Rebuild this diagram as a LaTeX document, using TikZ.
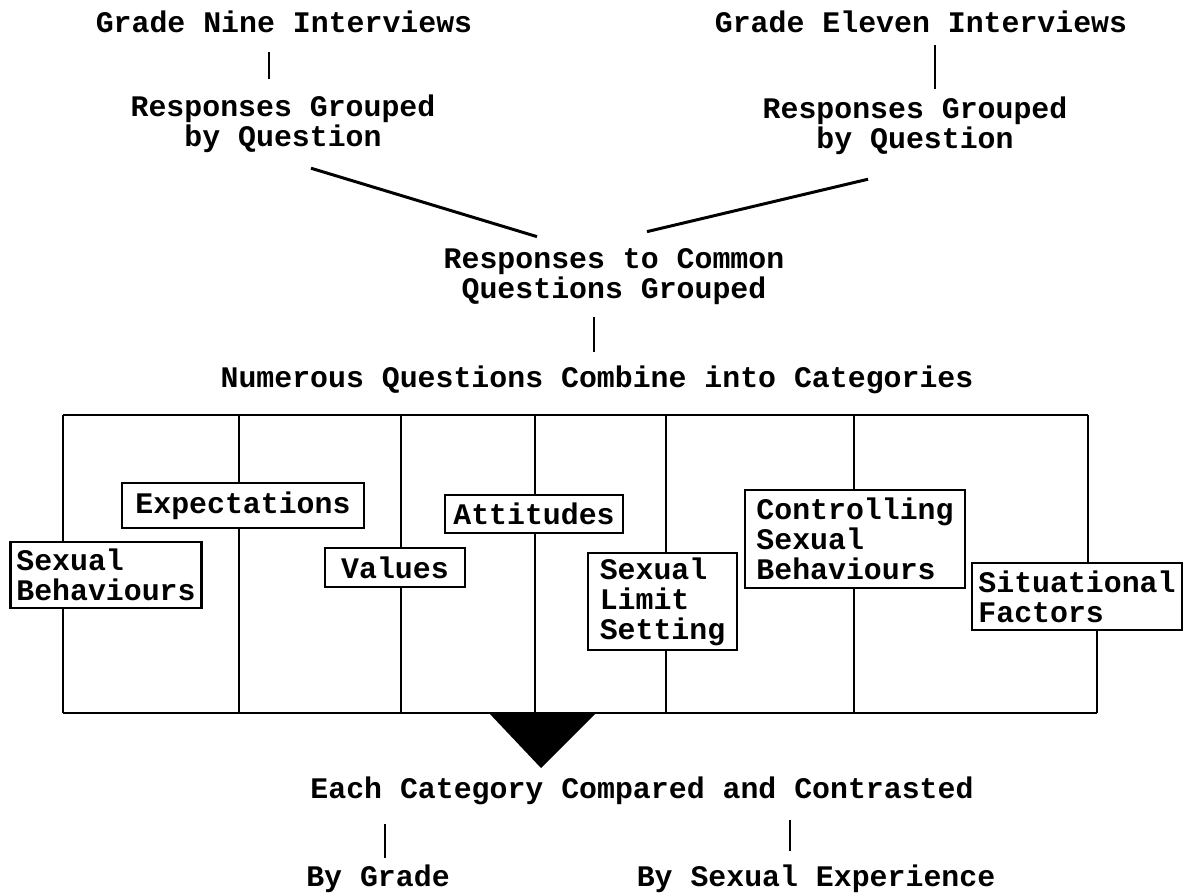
\documentclass[tikz,border=0pt]{standalone}
\usepackage{fontspec}
\usepackage{tikz}
\usetikzlibrary{arrows,positioning}
\newfontfamily\typew{Liberation Mono}
\tikzset{
    %Define style for plain stages
    stage/.style={
           inner sep=0pt,
           font=\typew\bfseries\fontsize{17}{17}\selectfont,
           align=center},
    %Define style for boxes
    catbox/.style={
           rectangle,
           draw=black, line width=1.3pt,
           inner sep=0pt,
           font=\typew\bfseries\fontsize{17}{17}\selectfont,
           align=left},
    % Define line style
    link/.style={
           line width=1.3pt},
    slant/.style={
           line width=1.7pt}
}
\begin{document}
\begin{tikzpicture}[x=0.02cm,y=-0.02cm]
\useasboundingbox (0,0) rectangle (1183,894);
 %nodes
\node[stage](nine) at (284,22){Grade Nine Interviews};
\node[stage](ninegr) at (283,124){Responses Grouped\\by Question};
\node[stage](eleven) at (921,22){Grade Eleven Interviews};
\node[stage](elevengr) at (915,126){Responses Grouped\\by Question};
\node[stage](common) at (614,277){Responses to Common\\Questions Grouped};
\node[stage](combine) at (597,380){Numerous Questions Combine into Categories};
\node[catbox, minimum width=3.82cm, minimum height=1.32cm](behav) at (106,575){Sexual\\Behaviours};
\node[catbox, minimum width=4.84cm, minimum height=0.9cm](expect) at (243,505.5){Expectations};
\node[catbox, minimum width=2.8cm, minimum height=0.78cm](values) at (395,567.5){Values};
\node[catbox, minimum width=3.56cm, minimum height=0.76cm](attit) at (534,514){Attitudes};
\node[catbox, minimum width=2.98cm, minimum height=1.94cm](limit) at (662.5,601.5){Sexual\\Limit\\Setting};
\node[catbox, minimum width=4.4cm, minimum height=1.96cm](control) at (855,539){Controlling\\Sexual\\Behaviours};
\node[catbox, minimum width=4.2cm, minimum height=1.34cm](situ) at (1077,596.5){Situational\\Factors};
\node[stage](compare) at (642,791){Each Category Compared and Contrasted};
\node[stage](grade) at (378,879){By Grade};
\node[stage](exper) at (816,879){By Sexual Experience};
 %connectors
\draw[link, shorten <=10.8pt, shorten >=9pt] (269,0 |- nine.south) -- (269,0 |- ninegr.north);
\draw[link, shorten <=6.7pt, shorten >=4.4pt] (935,0 |- eleven.south) -- (935,0 |- elevengr.north);
\draw[slant] ([shift={(28,15)}]ninegr.south) -- ([shift={(-77,-12)}]common.north);
\draw[slant] ([shift={(-47,24)}]elevengr.south) -- ([shift={(33,-17)}]common.north);
\draw[link, shorten <=6.8pt, shorten >=7.7pt] (594,0 |- common.south) -- (594,0 |- combine.north);
 %frame
\draw[link] (63,415) -- (1088,415) (63,713) -- (1097,713);
\foreach \b/\x in {behav/63, expect/239, values/401, attit/535, limit/666, control/854}
    \draw[link] (\x,415) -- (\x,0 |- \b.north) (\x,0 |- \b.south) -- (\x,713);
\draw[link] (1088,415) -- (1088,0 |- situ.north) (1097,0 |- situ.south) -- (1097,713);
\fill (489,713) -- (596,713) -- (541,768) -- cycle;
\draw[link, shorten <=10.5pt, shorten >=3.7pt] (385,0 |- compare.south) -- (385,0 |- grade.north);
\draw[link, shorten <=8.3pt, shorten >=7.7pt] (790,0 |- compare.south) -- (790,0 |- exper.north);
\end{tikzpicture}
\end{document}
